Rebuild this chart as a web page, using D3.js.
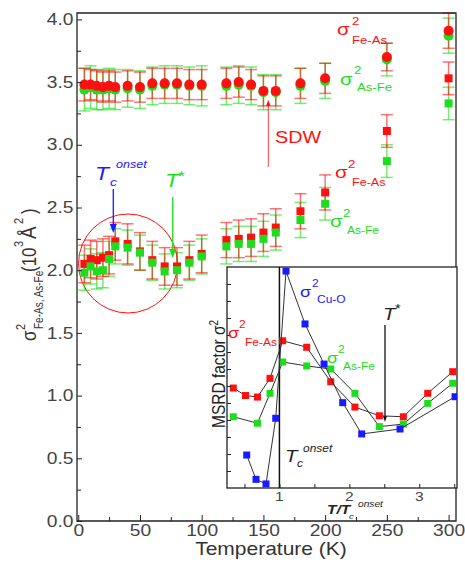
<!DOCTYPE html>
<html><head><meta charset="utf-8">
<script src="https://cdn.jsdelivr.net/npm/d3@7"></script>
<style>
body{margin:0;background:#fff;}
svg{display:block;font-family:"Liberation Sans",Arial,Helvetica,sans-serif;}
</style></head>
<body><svg id="c" width="465" height="562"></svg>
<script>
// ---------- main panel data ----------
const temperatures = [5,10,15,20,25,30,40,50,60,70,80,90,100,120,130,140,150,160,180,200,250,300];
const sigmaFeAsHigh = [3.48,3.48,3.47,3.46,3.47,3.46,3.47,3.46,3.49,3.49,3.49,3.48,3.48,3.49,3.50,3.48,3.43,3.43,3.49,3.53,3.70,3.91];
const sigmaAsFeHigh = [3.44,3.46,3.44,3.44,3.45,3.44,3.45,3.44,3.47,3.48,3.48,3.47,3.47,3.47,3.48,3.47,3.42,3.42,3.47,3.51,3.68,3.87];
const sigmaFeAsLow  = [2.05,2.09,2.08,2.10,2.12,2.23,2.21,2.15,2.08,2.03,2.03,2.08,2.13,2.24,2.25,2.26,2.30,2.34,2.47,2.62,3.11,3.53];
const sigmaAsFeLow  = [1.98,2.03,1.99,2.00,2.09,2.19,2.18,2.14,2.06,1.99,2.00,2.06,2.11,2.19,2.21,2.21,2.25,2.30,2.40,2.53,2.87,3.33];
const errFeAsHigh = [0.13,0.12,0.12,0.12,0.12,0.12,0.12,0.12,0.12,0.12,0.12,0.12,0.12,0.12,0.12,0.12,0.12,0.12,0.12,0.12,0.11,0.14];
const errAsFeHigh = [0.17,0.17,0.16,0.16,0.16,0.16,0.15,0.15,0.15,0.15,0.15,0.15,0.16,0.15,0.15,0.15,0.14,0.14,0.14,0.14,0.13,0.14];
const errFeAsLow  = [0.15,0.15,0.15,0.15,0.15,0.15,0.16,0.15,0.15,0.15,0.15,0.15,0.15,0.14,0.15,0.15,0.15,0.15,0.14,0.14,0.13,0.13];
const errAsFeLow  = [0.14,0.14,0.14,0.14,0.14,0.14,0.14,0.14,0.14,0.14,0.14,0.14,0.14,0.14,0.14,0.14,0.14,0.14,0.14,0.13,0.13,0.13];
const xMajorTicks = [0,50,100,150,200,250,300];
const xMinorTicks = [25,75,125,175,225,275];
const yMajorTicks = [0,0.5,1,1.5,2,2.5,3,3.5,4];
const yMinorTicks = [0.25,0.75,1.25,1.75,2.25,2.75,3.25,3.75];

// ---------- inset data (T / Tc_onset, arbitrary MSRD units) ----------
const insetFeAsT = [0.34,0.515,0.686,0.865,1.047,1.39,1.734,2.08,2.429,2.772,3.121,3.479];
const insetFeAsV = [5.88,5.44,5.35,6.45,8.66,8.28,6.25,4.76,4.25,4.19,5.57,6.84];
const insetAsFeT = [0.34,0.686,0.865,1.047,1.39,1.734,2.08,2.429,2.772,3.121,3.479];
const insetAsFeV = [4.19,3.81,5.57,7.41,7.18,7.0,5.57,3.61,3.76,4.98,6.16];
const insetCuOT  = [0.532,0.665,0.808,0.947,1.094,1.366,1.638,1.905,2.177,2.725,3.512];
const insetCuOV  = [1.94,0.51,0.24,4.1,12.76,9.65,7.29,5.02,3.18,3.47,5.37];
const insetXTicks = [0.5,1,1.5,2,2.5,3,3.5];
const insetXLabels = [1,2,3];
const insetYTicks = [1,2,3,4,5,6,7,8,9,10,11,12];

const RED = "#ff1010", GREEN = "#1edd1e", BLUE = "#1a1aff";
const SX = 1.2;
const svg = d3.select("#c");

const x = d3.scaleLinear().domain([-1, 306]).range([77, 456]);
const y = d3.scaleLinear().domain([0, 4]).range([521, 19.4]);

function piece(g, px, py, str, size, color, opt = {}) {
  return g.append("text")
    .attr("transform", `translate(${px},${py}) scale(${SX},1)`)
    .attr("font-size", size).attr("fill", color)
    .attr("font-style", opt.italic ? "italic" : null)
    .attr("font-weight", opt.bold ? "bold" : null)
    .text(str);
}

// ---------- annotation circle ----------
svg.append("circle").attr("cx", 128).attr("cy", 263.5).attr("r", 49.5)
  .attr("fill", "none").attr("stroke", RED).attr("stroke-width", 1);

// ---------- error bars ----------
function errorBars(vals, errs, color) {
  const g = svg.append("g").attr("stroke", color).attr("stroke-width", 1.5).attr("stroke-opacity", 0.55);
  temperatures.forEach((t, i) => {
    const cx = x(t), y0 = y(vals[i] - errs[i]), y1 = y(vals[i] + errs[i]);
    g.append("line").attr("x1", cx).attr("x2", cx).attr("y1", y0).attr("y2", y1);
    g.append("line").attr("x1", cx - 6).attr("x2", cx + 6).attr("y1", y0).attr("y2", y0);
    g.append("line").attr("x1", cx - 6).attr("x2", cx + 6).attr("y1", y1).attr("y2", y1);
  });
}
errorBars(sigmaAsFeHigh, errAsFeHigh, "#00e000");
errorBars(sigmaFeAsHigh, errFeAsHigh, "#ff0000");
errorBars(sigmaAsFeLow, errAsFeLow, "#00e000");
errorBars(sigmaFeAsLow, errFeAsLow, "#ff0000");

// ---------- markers ----------
svg.append("g").selectAll("circle").data(temperatures.map((t, i) => [t, sigmaAsFeHigh[i]]))
  .join("circle").attr("cx", d => x(d[0])).attr("cy", d => y(d[1])).attr("r", 5).attr("fill", GREEN);
svg.append("g").selectAll("circle").data(temperatures.map((t, i) => [t, sigmaFeAsHigh[i]]))
  .join("circle").attr("cx", d => x(d[0])).attr("cy", d => y(d[1])).attr("r", 5).attr("fill", RED);
const SQ = 8;
svg.append("g").selectAll("rect").data(temperatures.map((t, i) => [t, sigmaFeAsLow[i]]))
  .join("rect").attr("x", d => x(d[0]) - SQ/2).attr("y", d => y(d[1]) - SQ/2)
  .attr("width", SQ).attr("height", SQ).attr("fill", RED);
svg.append("g").selectAll("rect").data(temperatures.map((t, i) => [t, sigmaAsFeLow[i]]))
  .join("rect").attr("x", d => x(d[0]) - SQ/2).attr("y", d => y(d[1]) - SQ/2)
  .attr("width", SQ).attr("height", SQ).attr("fill", GREEN);

// ---------- main annotations ----------
const ann = svg.append("g");
// upper labels
piece(ann, 337, 35, "σ", 17, RED); piece(ann, 352, 25, "2", 11, RED); piece(ann, 352, 44, "Fe-As", 11, RED);
piece(ann, 340, 85, "σ", 17, GREEN); piece(ann, 354, 74, "2", 11, GREEN); piece(ann, 357, 91, "As-Fe", 11, GREEN);
// lower labels
piece(ann, 335, 178, "σ", 17, RED); piece(ann, 348, 168, "2", 11, RED); piece(ann, 352, 186, "Fe-As", 10.5, RED);
piece(ann, 330, 227, "σ", 17, GREEN); piece(ann, 343, 217, "2", 11, GREEN); piece(ann, 347, 234, "As-Fe", 10, GREEN);
// SDW
piece(ann, 275, 143, "SDW", 16.5, RED);
ann.append("line").attr("x1", 268.3).attr("x2", 268.3).attr("y1", 167).attr("y2", 103)
  .attr("stroke", RED).attr("stroke-width", 1).attr("stroke-opacity", 0.8);
ann.append("path").attr("d", "M268.3,100 L266,106 L270.6,106 Z").attr("fill", RED);
// Tc onset (blue)
piece(ann, 95, 180, "T", 19, BLUE, {italic: true});
piece(ann, 110, 186, "c", 11.5, BLUE, {italic: true});
piece(ann, 116, 168, "onset", 10.5, BLUE, {italic: true});
ann.append("line").attr("x1", 113.3).attr("x2", 113.3).attr("y1", 189).attr("y2", 226)
  .attr("stroke", BLUE).attr("stroke-width", 1.3);
ann.append("path").attr("d", "M113.3,233 L109.8,224 L116.8,224 Z").attr("fill", BLUE);
// T* (green)
piece(ann, 165, 187, "T", 19, GREEN, {italic: true});
piece(ann, 178, 181, "*", 15, GREEN);
ann.append("line").attr("x1", 172.7).attr("x2", 172.7).attr("y1", 197).attr("y2", 250)
  .attr("stroke", GREEN).attr("stroke-width", 1.3);
ann.append("path").attr("d", "M172.7,258 L169.2,249 L176.2,249 Z").attr("fill", GREEN);

// ---------- main axes ----------
const axG = svg.append("g").attr("color", "#222");
const xAx = axG.append("g").attr("transform", "translate(0,521)")
  .call(d3.axisBottom(x).tickValues(xMajorTicks).tickSize(-6).tickPadding(4).tickSizeOuter(0));
xAx.call(g => g.select(".domain").remove());
axG.append("g").attr("transform", "translate(0,521)")
  .call(d3.axisBottom(x).tickValues(xMinorTicks).tickSize(-4).tickFormat("").tickSizeOuter(0))
  .call(g => g.select(".domain").remove());
const yAx = axG.append("g").attr("transform", "translate(77,0)")
  .call(d3.axisLeft(y).tickValues(yMajorTicks).tickSize(-5).tickPadding(3).tickFormat(d3.format(".1f")).tickSizeOuter(0));
yAx.call(g => g.select(".domain").remove());
axG.append("g").attr("transform", "translate(77,0)")
  .call(d3.axisLeft(y).tickValues(yMinorTicks).tickSize(-4).tickFormat("").tickSizeOuter(0))
  .call(g => g.select(".domain").remove());
axG.selectAll(".tick text").attr("font-size", 16).attr("fill", "#444")
  .attr("font-family", '"Liberation Sans",Arial,sans-serif')
  .attr("transform", `scale(${SX},1)`);
// frame
svg.append("path").attr("d", "M77,13 L77,521 L456,521 L456,13 Z")
  .attr("fill", "none").attr("stroke", "#222").attr("stroke-width", 1.3);

// axis titles
svg.append("text").attr("transform", `translate(271,555) scale(${SX},1)`)
  .attr("text-anchor", "middle").attr("font-size", 17.5).attr("fill", "#333").text("Temperature (K)");
const yt = svg.append("g").attr("transform", `translate(36,341) scale(${SX},1) rotate(-90)`).attr("fill", "#333");
function rp(px, py, str, size) { yt.append("text").attr("x", px).attr("y", py).attr("font-size", size).text(str); }
rp(0, 0, "σ", 17); rp(11, -9, "2", 11); rp(12, 6, "Fe-As, As-Fe", 10);
rp(69, 0, "(10", 17); rp(94, -11, "3", 11); rp(102, 0, "Å", 19); rp(117, -11, "2", 11); rp(127, 0, ")", 17);

// ---------- inset ----------
const ix = d3.scaleLinear().domain([0.25, 3.54]).range([227, 457]);
const iy = d3.scaleLinear().domain([0, 13]).range([488, 267]);
const inset = svg.append("g");
inset.append("rect").attr("x", 227).attr("y", 267).attr("width", 230).attr("height", 221)
  .attr("fill", "#fff").attr("stroke", "#222").attr("stroke-width", 1.3);
svg.append("defs").append("clipPath").attr("id", "ic").append("rect")
  .attr("x", 227).attr("y", 267).attr("width", 230).attr("height", 221);
const ic = inset.append("g").attr("clip-path", "url(#ic)");
// ticks
inset.append("g").attr("transform", "translate(0,488)").attr("color", "#222")
  .call(d3.axisBottom(ix).tickValues(insetXTicks).tickSize(-4).tickFormat("").tickSizeOuter(0))
  .call(g => g.select(".domain").remove());
inset.append("g").attr("transform", "translate(227,0)").attr("color", "#222")
  .call(d3.axisLeft(iy).tickValues(insetYTicks).tickSize(-4).tickFormat("").tickSizeOuter(0))
  .call(g => g.select(".domain").remove());
inset.selectAll("text.ixl").data(insetXLabels).join("text").attr("class", "ixl")
  .attr("transform", d => `translate(${ix(d)},501) scale(${SX},1)`).attr("text-anchor", "middle")
  .attr("font-size", 13).attr("fill", "#444").text(d => d);
// Tc line
ic.append("line").attr("x1", ix(1)).attr("x2", ix(1)).attr("y1", 267).attr("y2", 488)
  .attr("stroke", "#111").attr("stroke-width", 1.5);
// T* line
ic.append("line").attr("x1", 385).attr("x2", 385).attr("y1", 325).attr("y2", 417)
  .attr("stroke", "#111").attr("stroke-width", 1.3);
ic.append("path").attr("d", "M385,422 L383,416 L387,416 Z").attr("fill", "#111");
// series
const line = d3.line().x(d => ix(d[0])).y(d => iy(d[1]));
function insetSeries(ts, vs, color) {
  const pts = ts.map((t, i) => [t, vs[i]]);
  ic.append("path").attr("d", line(pts)).attr("fill", "none").attr("stroke", "#333").attr("stroke-width", 1);
  ic.append("g").selectAll("rect").data(pts).join("rect")
    .attr("x", d => ix(d[0]) - 3.5).attr("y", d => iy(d[1]) - 3.5).attr("width", 7).attr("height", 7)
    .attr("fill", color);
}
insetSeries(insetFeAsT, insetFeAsV, RED);
insetSeries(insetAsFeT, insetAsFeV, GREEN);
insetSeries(insetCuOT, insetCuOV, BLUE);
// inset labels
piece(inset, 300, 297, "σ", 15, BLUE); piece(inset, 312, 287, "2", 10, BLUE); piece(inset, 317, 303, "Cu-O", 10, BLUE);
piece(inset, 228, 338, "σ", 15, RED); piece(inset, 239, 328, "2", 10, RED); piece(inset, 245, 346, "Fe-As", 10, RED);
piece(inset, 327, 363, "σ", 15, GREEN); piece(inset, 338, 353, "2", 10, GREEN); piece(inset, 343, 370, "As-Fe", 10, GREEN);
piece(inset, 383, 320, "T", 17, "#222", {italic: true}); piece(inset, 395, 313, "*", 12, "#222");
piece(inset, 285, 462, "T", 17, "#222", {italic: true}); piece(inset, 297, 467, "c", 10, "#222", {italic: true});
piece(inset, 303, 452, "onset", 10, "#222", {italic: true});
// inset x title
piece(inset, 327, 514, "T/T", 13, "#222", {italic: true, bold: true});
piece(inset, 358, 507, "onset", 8.5, "#222", {italic: true});
piece(inset, 349, 519, "c", 8, "#222", {italic: true});
// inset y title
const iyt = svg.append("text").attr("transform", `translate(225,428) scale(${SX},1) rotate(-90)`)
  .attr("font-size", 15.5).attr("fill", "#222");
iyt.append("tspan").text("MSRD factor σ");
iyt.append("tspan").attr("dy", -6).attr("font-size", 10).text("2");
</script></body></html>
